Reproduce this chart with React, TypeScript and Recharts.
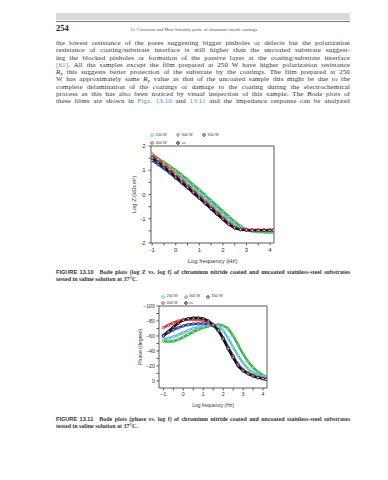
import React from "react";
import { LineChart, Line, XAxis, YAxis, Legend } from "recharts";

// log10 of frequency (Hz), shared by both plots
const FREQ = [-1, -0.75, -0.5, -0.25, 0, 0.25, 0.5, 0.75, 1, 1.25, 1.5, 1.75, 2, 2.25, 2.5, 2.75, 3, 3.25, 3.5, 3.75, 4, 4.15];

// Fig 13.10: log Z (kOhm cm2)
const LOGZ_250 = [1.5, 1.36, 1.21, 1.04, 0.86, 0.67, 0.47, 0.26, 0.05, -0.17, -0.39, -0.61, -0.83, -1.05, -1.25, -1.39, -1.46, -1.49, -1.5, -1.51, -1.51, -1.51];
const LOGZ_300 = [1.6, 1.47, 1.33, 1.17, 1.0, 0.81, 0.61, 0.4, 0.19, -0.03, -0.25, -0.47, -0.69, -0.91, -1.12, -1.31, -1.44, -1.51, -1.54, -1.55, -1.56, -1.56];
const LOGZ_350 = [1.4, 1.24, 1.07, 0.88, 0.68, 0.48, 0.27, 0.06, -0.15, -0.37, -0.59, -0.81, -1.02, -1.22, -1.37, -1.44, -1.46, -1.47, -1.47, -1.47, -1.47, -1.47];
const LOGZ_400 = [1.66, 1.45, 1.24, 1.03, 0.82, 0.6, 0.38, 0.16, -0.06, -0.28, -0.5, -0.72, -0.95, -1.16, -1.33, -1.42, -1.45, -1.46, -1.46, -1.46, -1.46, -1.46];
const LOGZ_SS = [1.52, 1.33, 1.13, 0.93, 0.72, 0.51, 0.3, 0.08, -0.14, -0.36, -0.58, -0.8, -1.02, -1.23, -1.38, -1.45, -1.47, -1.48, -1.48, -1.48, -1.48, -1.48];

// Fig 13.11: phase (degree)
const PHASE_250 = [-56, -57, -59, -61.5, -64.5, -67.5, -70, -72, -73.5, -74.5, -74.5, -72.5, -67, -57, -45, -34, -24, -16.5, -11.5, -8, -5.5, -4];
const PHASE_300 = [-53, -52.5, -53, -55.5, -58.5, -62, -65.5, -68.5, -71, -73, -74.5, -75, -73.5, -69.5, -60, -48, -36, -26, -18, -12, -7.5, -5];
const PHASE_350 = [-61, -64.5, -68, -71, -73.5, -75, -76, -76.5, -76.5, -76, -73.5, -67, -57.5, -45, -33, -22, -15, -10.5, -7.5, -5, -3.5, -2.5];
const PHASE_400 = [-71, -74.5, -77.5, -80, -81.5, -82, -82, -81.5, -80.5, -78.5, -74.5, -67, -56.5, -44, -32, -21.5, -14.5, -10, -7, -4.5, -3, -2];
const PHASE_SS = [-60, -66, -72, -77, -81, -83, -84, -84, -83, -80, -75, -68, -56, -43, -31, -20, -13.5, -9.5, -6.5, -4.5, -3, -2];

const X_TICKS_1 = [-1, -0.5, 0, 0.5, 1, 1.5, 2, 2.5, 3, 3.5, 4];
const Y_TICKS_1 = [-2, -1.5, -1, -0.5, 0, 0.5, 1, 1.5, 2];
const X_TICKS_2 = [-1, -0.5, 0, 0.5, 1, 1.5, 2, 2.5, 3, 3.5, 4];
const Y_TICKS_2 = [-100, -90, -80, -70, -60, -50, -40, -30, -20, -10, 0];

const SERIES = [
  { key: "w250", name: "250 W", color: "#55c4d2" },
  { key: "w300", name: "300 W", color: "#3db24b" },
  { key: "w350", name: "350 W", color: "#2b3c9c" },
  { key: "w400", name: "400 W", color: "#d23b3b" },
  { key: "ss", name: "ss", color: "#111111" },
];
// drawing order: black on top
const DRAW_ORDER = ["w300", "w250", "w350", "w400", "ss"];

const logzRows = FREQ.map((f, i) => ({
  f,
  w250: LOGZ_250[i],
  w300: LOGZ_300[i],
  w350: LOGZ_350[i],
  w400: LOGZ_400[i],
  ss: LOGZ_SS[i],
}));

const phaseRows = FREQ.map((f, i) => ({
  f,
  w250: PHASE_250[i],
  w300: PHASE_300[i],
  w350: PHASE_350[i],
  w400: PHASE_400[i],
  ss: PHASE_SS[i],
}));

const SANS = "'Liberation Sans', Arial, sans-serif";
const SERIF = "'Liberation Serif', 'Times New Roman', serif";
const AXIS = "#5a5a5a";
const LINK = "#3a8fd2";

const intOnly = (v: number) => (Number.isInteger(v) ? String(v) : "");
const intMinus = (v: number) => (Number.isInteger(v) ? String(v).replace("-", "\u2212") : "");

function BodeLegend({ gap, rowH, size }: { gap: number; rowH: number; size: number }) {
  const rows = [SERIES.slice(0, 3), SERIES.slice(3)];
  return (
    <div style={{ fontFamily: SANS, fontSize: size, color: "#333", lineHeight: `${rowH}px` }}>
      {rows.map((row, ri) => (
        <div key={ri} style={{ display: "flex", height: rowH }}>
          {row.map((s) => (
            <div key={s.key} style={{ width: gap, display: "flex", alignItems: "center" }}>
              <svg width={4} height={4} style={{ flex: "none" }}>
                <circle cx={2} cy={2} r={1.3} fill="#fff" stroke={s.color} strokeWidth={0.9} />
              </svg>
              <span style={{ marginLeft: 1.5, whiteSpace: "nowrap" }}>{s.name}</span>
            </div>
          ))}
        </div>
      ))}
    </div>
  );
}

function seriesLines() {
  return DRAW_ORDER.map((k) => {
    const s = SERIES.find((x) => x.key === k)!;
    return (
      <Line
        key={k}
        xAxisId="b"
        yAxisId="l"
        type="monotone"
        dataKey={k}
        name={s.name}
        stroke={s.color}
        strokeWidth={2.4}
        dot={{ r: 1.3, fill: "#fff", fillOpacity: 0.55, stroke: s.color, strokeWidth: 0.8 }}
        isAnimationActive={false}
      />
    );
  });
}

function ImpedanceChart() {
  const tickStyle = { fontSize: 6, fill: "#333", fontFamily: SANS };
  return (
    <div style={{ position: "absolute", left: 100, top: 120 }}>
      <LineChart width={200} height={150} data={logzRows} margin={{ top: 25, right: 25, bottom: 0, left: 0 }}>
        <XAxis
          xAxisId="b"
          dataKey="f"
          type="number"
          domain={[-1.05, 4.17]}
          ticks={X_TICKS_1}
          interval={0}
          allowDataOverflow
          height={27}
          tickSize={2.5}
          tickMargin={2}
          stroke={AXIS}
          tick={tickStyle}
          tickFormatter={intOnly}
          label={{ value: "Log frequency (Hz)", position: "insideBottom", offset: 7, fontSize: 5.8, fill: "#333", fontFamily: SANS }}
        />
        <XAxis
          xAxisId="t"
          orientation="top"
          dataKey="f"
          type="number"
          domain={[-1.05, 4.17]}
          ticks={X_TICKS_1}
          interval={0}
          allowDataOverflow
          height={1}
          tickSize={-2.5}
          stroke={AXIS}
          tick={false}
        />
        <YAxis
          yAxisId="l"
          type="number"
          domain={[-2, 2]}
          ticks={Y_TICKS_1}
          interval={0}
          allowDataOverflow
          width={51}
          tickSize={2.5}
          tickMargin={3}
          stroke={AXIS}
          tick={tickStyle}
          tickFormatter={intOnly}
          label={{ value: "Log Z (k\u03A9cm\u00B2)", angle: -90, position: "center", dx: 8.5, fontSize: 5.8, fill: "#333", fontFamily: SANS }}
        />
        <YAxis
          yAxisId="r"
          orientation="right"
          type="number"
          domain={[-2, 2]}
          ticks={Y_TICKS_1}
          interval={0}
          allowDataOverflow
          width={1}
          tickSize={-2.5}
          stroke={AXIS}
          tick={false}
        />
        <Legend
          layout="horizontal"
          verticalAlign="middle"
          align="center"
          wrapperStyle={{ left: 50, top: 11.2, width: 100 }}
          content={() => <BodeLegend gap={26} rowH={7.7} size={3.9} />}
        />
        {seriesLines()}
      </LineChart>
    </div>
  );
}

function PhaseChart() {
  const tickStyle = { fontSize: 5.3, fill: "#333", fontFamily: SANS };
  return (
    <div style={{ position: "absolute", left: 100, top: 280 }}>
      <LineChart width={200} height={135} data={phaseRows} margin={{ top: 25, right: 32, bottom: 0, left: 0 }}>
        <XAxis
          xAxisId="b"
          dataKey="f"
          type="number"
          domain={[-1.22, 4.2]}
          ticks={X_TICKS_2}
          interval={0}
          allowDataOverflow
          height={27}
          tickSize={2.5}
          tickMargin={2}
          stroke={AXIS}
          tick={tickStyle}
          tickFormatter={intMinus}
          label={{ value: "Log frequency (Hz)", position: "insideBottom", offset: 8, fontSize: 4.9, fill: "#333", fontFamily: SANS }}
        />
        <XAxis
          xAxisId="t"
          orientation="top"
          dataKey="f"
          type="number"
          domain={[-1.22, 4.2]}
          ticks={X_TICKS_2}
          interval={0}
          allowDataOverflow
          height={1}
          tickSize={-2.5}
          stroke={AXIS}
          tick={false}
        />
        <YAxis
          yAxisId="l"
          type="number"
          reversed
          domain={[-100, 9.5]}
          ticks={Y_TICKS_2}
          interval={0}
          allowDataOverflow
          width={59}
          tickSize={2.5}
          tickMargin={1.5}
          stroke={AXIS}
          tick={tickStyle}
          tickFormatter={(v: number) => (v % 20 === 0 ? String(v).replace("-", "\u2212") : "")}
          label={{ value: "Phase (degree)", angle: -90, position: "center", dx: 11, fontSize: 5.2, fill: "#333", fontFamily: SANS }}
        />
        <YAxis
          yAxisId="r"
          orientation="right"
          type="number"
          reversed
          domain={[-100, 9.5]}
          ticks={Y_TICKS_2}
          interval={0}
          allowDataOverflow
          width={1}
          tickSize={-2.5}
          stroke={AXIS}
          tick={false}
        />
        <Legend
          layout="horizontal"
          verticalAlign="middle"
          align="center"
          wrapperStyle={{ left: 61, top: 13.4, width: 90 }}
          content={() => <BodeLegend gap={22.5} rowH={6.6} size={3.9} />}
        />
        {seriesLines()}
      </LineChart>
    </div>
  );
}

const lineStyle: React.CSSProperties = {
  height: 7.3,
  lineHeight: "7.3px",
  textAlign: "justify",
  textAlignLast: "justify",
  whiteSpace: "nowrap",
};

const Rp = () => (
  <span>
    <i>R</i>
    <sub style={{ fontSize: 4.4, verticalAlign: "-1px" }}>p</sub>
  </span>
);

function BodyText() {
  return (
    <div style={{ position: "absolute", left: 56, top: 40, width: 294, fontFamily: SERIF, fontSize: 7, letterSpacing: 0.12, color: "#333" }}>
      <div style={lineStyle}>the lowest resistance of the pores suggesting bigger pinholes or defects but the polarization</div>
      <div style={lineStyle}>resistance of coating/substrate interface is still higher than the uncoated substrate suggest-</div>
      <div style={lineStyle}>ing the blocked pinholes or formation of the passive layer at the coating/substrate interface</div>
      <div style={lineStyle}>
        <span style={{ color: LINK }}>[61]</span>. All the samples except the film prepared at 250 W have higher polarization resistance
      </div>
      <div style={lineStyle}>
        <Rp /> this suggests better protection of the substrate by the coatings. The film prepared at 250
      </div>
      <div style={lineStyle}>
        W has approximately same <Rp /> value as that of the uncoated sample this might be due to the
      </div>
      <div style={lineStyle}>complete delamination of the coatings or damage to the coating during the electrochemical</div>
      <div style={lineStyle}>process as this has also been noticed by visual inspection of this sample. The Bode plots of</div>
      <div style={lineStyle}>
        these films are shown in <span style={{ color: LINK }}>Figs. 13.10</span> and <span style={{ color: LINK }}>13.11</span> and the impedance response can be analyzed
      </div>
    </div>
  );
}

function Caption({ top, label, text }: { top: number; label: string; text: string }) {
  const cl: React.CSSProperties = { height: 7, lineHeight: "7px", whiteSpace: "nowrap" };
  return (
    <div style={{ position: "absolute", left: 56, top, width: 294, fontFamily: SERIF, fontSize: 6, color: "#333" }}>
      <div style={{ ...cl, textAlign: "justify", textAlignLast: "justify" }}>
        <b style={{ fontFamily: SANS, fontSize: 5.6 }}>{label}</b>
        {"\u2003"}
        <b>{text}</b>
      </div>
      <div style={cl}>
        <b>tested in saline solution at 37°C.</b>
      </div>
    </div>
  );
}

export default function App() {
  return (
    <div style={{ position: "absolute", left: 0, top: 0, width: 388, height: 480, background: "#fff", overflow: "hidden" }}>
      <div style={{ position: "absolute", left: 56, top: 13, width: 294, height: 7, background: "#d9d9d9" }} />
      <div style={{ position: "absolute", left: 56, top: 21, width: 294, height: 0.6, background: "#777" }} />
      <div style={{ position: "absolute", left: 56, top: 23.5, fontFamily: SERIF, fontSize: 8.5, fontWeight: 700, lineHeight: "9px", color: "#222" }}>
        254
      </div>
      <div style={{ position: "absolute", left: 130, top: 26.5, fontFamily: SERIF, fontSize: 4.6, lineHeight: "5px", color: "#555", whiteSpace: "nowrap" }}>
        13. Corrosion and Mott-Schottky probe of chromium nitride coatings
      </div>
      <BodyText />
      <ImpedanceChart />
      <Caption
        top={268.5}
        label="FIGURE 13.10"
        text="Bode plots (log Z vs. log f) of chromium nitride coated and uncoated stainless-steel substrates"
      />
      <PhaseChart />
      <Caption
        top={416}
        label="FIGURE 13.11"
        text="Bode plots (phase vs. log f) of chromium nitride coated and uncoated stainless-steel substrates"
      />
    </div>
  );
}
